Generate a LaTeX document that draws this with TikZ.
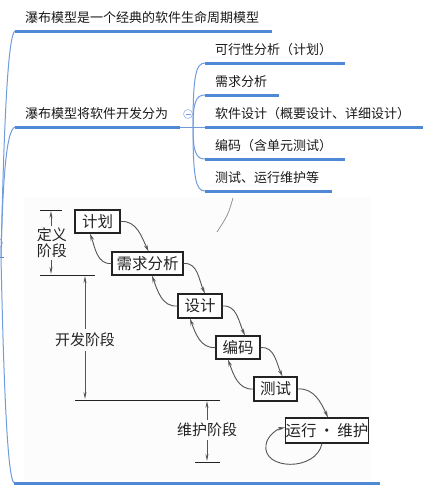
\documentclass[tikz,border=0pt]{standalone}
\usepackage{fontspec}
\setmainfont{Noto Sans CJK SC}
\newfontfamily\cjk{Noto Sans CJK SC}
\usetikzlibrary{arrows.meta}
\definecolor{mmblue}{RGB}{79,136,212}
\definecolor{mmthin}{RGB}{112,156,222}
\definecolor{mmtext}{RGB}{25,25,25}
\definecolor{scan}{RGB}{35,35,35}
\definecolor{scanarrow}{RGB}{85,85,85}
\definecolor{imgbg}{RGB}{252,252,252}
\tikzset{
  mmlabel/.style={anchor=west,inner sep=0pt,font=\cjk\fontsize{13}{15}\selectfont,text=mmtext},
  underl/.style={draw=mmblue,line width=3pt},
  trunk/.style={draw=mmthin,line width=1pt},
  stagebox/.style={draw=scan,line width=1.1pt,inner sep=0pt,font=\cjk\fontsize{15.5}{17}\selectfont,text=scan,fill=white},
  phase/.style={inner sep=0pt,font=\cjk\fontsize{15}{16.5}\selectfont,text=scan,align=center},
  flow/.style={draw=scanarrow,line width=0.9pt,-{Stealth[length=7pt,width=3.5pt]}},
  dim/.style={draw=scanarrow,line width=0.9pt,-{Stealth[length=7pt,width=3pt]}},
  rule/.style={draw=scan,line width=0.9pt},
  toggle/.style={circle,draw=mmthin!70,line width=0.6pt,fill=white,minimum size=9pt,inner sep=0pt}
}
\begin{document}
\begin{tikzpicture}[x=1pt,y=-1pt]
\useasboundingbox (0,0) rectangle (433,488);
% image background
\fill[imgbg] (24,197) rectangle (370,480);

% ---- mind map ----
\coordinate (root) at (1,257);
\draw[draw=mmblue,line width=1pt] (-2,257) -- (4,257);
\node[toggle] (roottog) at (-2,243) {};

\coordinate (b1) at (15,31);
\coordinate (b2) at (15,127);
\coordinate (b3) at (14,483);
\draw[trunk] (root) .. controls (4,120) and (8,35) .. (b1);
\draw[trunk] (root) .. controls (3,170) and (7,130) .. (b2);
\draw[trunk] (root) .. controls (4,400) and (8,478) .. (b3);

\node[mmlabel] (t1) at (25,18) {瀑布模型是一个经典的软件生命周期模型};
\draw[underl] (b1) -- (272,31);
\node[mmlabel] (t2) at (25,114) {瀑布模型将软件开发分为};
\coordinate (b2e) at (180,127);
\draw[underl] (b2) -- (b2e);
\draw[underl] (b3) -- (380,483);

\node[toggle] (tog) at (188,114) {};
\draw[draw=mmthin,line width=0.7pt] (185.5,114) -- (190.5,114);

\coordinate (cj) at (193,127);
\draw[trunk] (b2e) -- (205,127);
\coordinate (c1) at (205,63);
\coordinate (c2) at (205,95);
\coordinate (c3) at (205,127);
\coordinate (c4) at (205,159);
\coordinate (c5) at (205,191);
\draw[trunk] (cj) .. controls (193,75) and (196,63) .. (c1);
\draw[trunk] (cj) .. controls (193,102) and (196,95) .. (c2);
\draw[trunk] (cj) .. controls (193,152) and (196,159) .. (c4);
\draw[trunk] (cj) .. controls (193,179) and (196,191) .. (c5);

\node[mmlabel] (k1) at (215,50) {可行性分析（计划）};
\draw[underl] (c1) -- (345,63);
\node[mmlabel] (k2) at (215,82) {需求分析};
\draw[underl] (c2) -- (279,95);
\node[mmlabel] (k3) at (215,114) {软件设计（概要设计、详细设计）};
\draw[underl] (c3) -- (423,127);
\node[mmlabel] (k4) at (215,146) {编码（含单元测试）};
\draw[underl] (c4) -- (345,159);
\node[mmlabel] (k5) at (215,178) {测试、运行维护等};
\draw[underl] (c5) -- (332,191);

% ---- waterfall image ----
\draw[scanarrow!70,line width=0.7pt] (233,198) .. controls (228,215) .. (217,232);

\node[stagebox,minimum width=45pt,minimum height=23pt] (jh) at (97.5,221.5) {计划};
\node[stagebox,minimum width=71pt,minimum height=23pt] (xq) at (147.5,263.5) {需求分析};
\node[stagebox,minimum width=44pt,minimum height=24pt] (sj) at (200,306) {设计};
\node[stagebox,minimum width=44pt,minimum height=23pt] (bm) at (238,347.5) {编码};
\node[stagebox,minimum width=43pt,minimum height=24pt] (cs) at (275.5,389) {测试};
\node[stagebox,minimum width=78pt,minimum height=25pt] (yx) at (327,430.5) {运行\,·\,维护};

% forward arrows
\draw[flow] (jh.east) to[out=5,in=115] ([xshift=1pt]xq.north);
\draw[flow] (xq.east) to[out=5,in=115] ([xshift=5pt]sj.north);
\draw[flow] (sj.east) to[out=5,in=115] ([xshift=7pt]bm.north);
\draw[flow] (bm.east) to[out=5,in=115] ([xshift=7pt]cs.north);
\draw[flow] (cs.east) to[out=5,in=115] ([xshift=1pt]yx.north);
% backward arrows
\draw[flow] (xq.west) to[out=185,in=-70] ([xshift=-7.5pt]jh.south);
\draw[flow] (sj.west) to[out=185,in=-70] ([xshift=4.5pt]xq.south);
\draw[flow] (bm.west) to[out=185,in=-70] ([xshift=-10pt]sj.south);
\draw[flow] (cs.west) to[out=185,in=-70] ([xshift=-10pt]bm.south);
% self loop
\draw[flow] ([xshift=-5pt]yx.south) .. controls (316,472) and (262,470) .. (266,445) .. controls (267,436) and (277,429) .. ([yshift=3pt]yx.west);

% phase annotations
\draw[rule] (40,210) -- (62,210);
\draw[rule] (40,275) -- (95,275);
\draw[rule] (75,400) -- (220,400);
\draw[rule] (195,462) -- (220,462);

\node[phase] (dy) at (52,243) {定义\\阶段};
\node[phase] (kf) at (85,340) {开发阶段};
\node[phase] (wh) at (207,430) {维护阶段};
\coordinate (dyt) at (51,211);
\coordinate (dyb) at (51,274);
\coordinate (kft) at (85,276);
\coordinate (kfb) at (85,399);
\coordinate (wht) at (207,401);
\coordinate (whb) at (207,461);
\draw[dim] ([xshift=-1pt,yshift=2pt]dy.north) -- (dyt);
\draw[dim] ([xshift=-1pt,yshift=-2pt]dy.south) -- (dyb);
\draw[dim] ([yshift=4pt]kf.north) -- (kft);
\draw[dim] ([yshift=-4pt]kf.south) -- (kfb);
\draw[dim] ([yshift=3pt]wh.north) -- (wht);
\draw[dim] ([yshift=-3pt]wh.south) -- (whb);
\end{tikzpicture}
\end{document}
